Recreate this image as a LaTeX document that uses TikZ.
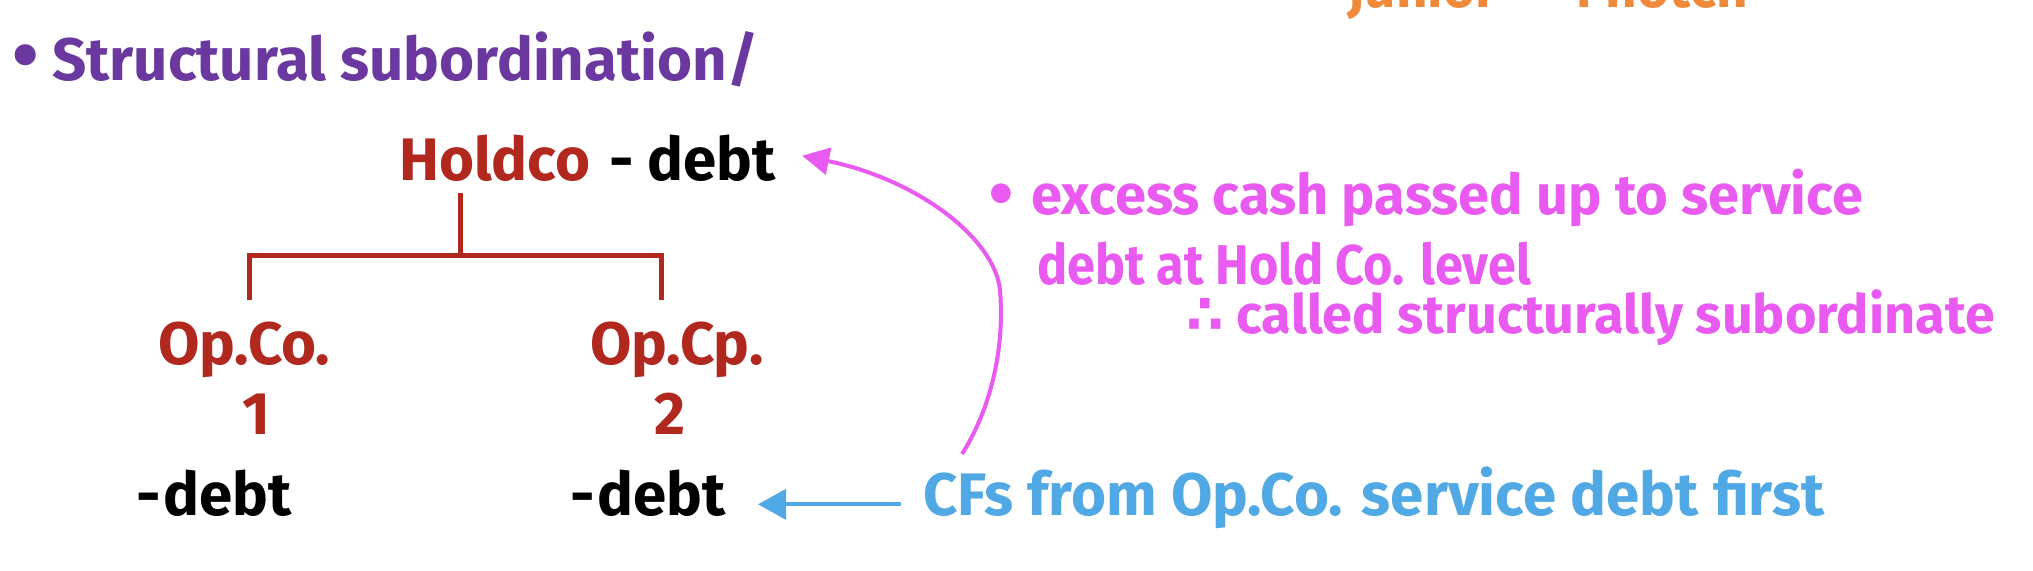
\documentclass[tikz,border=0pt]{standalone}
\usepackage{fontspec}
\setmainfont{Fira Sans}
\newfontfamily\symfont{DejaVu Sans}
\usetikzlibrary{arrows.meta}
\definecolor{hpurple}{RGB}{106,56,158}
\definecolor{hred}{RGB}{176,40,30}
\definecolor{hpink}{RGB}{232,90,240}
\definecolor{hblue}{RGB}{80,168,228}
\definecolor{horange}{RGB}{240,138,58}
\begin{document}
\begin{tikzpicture}[x=1pt,y=-1pt,
  every node/.style={inner sep=0pt},
  big/.style={font=\fontsize{60}{62}\selectfont\bfseries},
  mid/.style={font=\fontsize{56}{58}\selectfont\bfseries},
  txt/.style={anchor=base west},
  treeline/.style={hred,line width=5pt},
  parrow/.style={hpink,line width=4pt,-{Triangle[length=27pt,width=27pt]}},
  barrow/.style={hblue,line width=4pt,-{Triangle[length=28pt,width=30pt]}}]
\fill[white] (0,0) rectangle (2033,570);
\useasboundingbox (0,0) rectangle (2033,570);
\clip (0,0) rectangle (2033,570);
% top (cut off) orange note
\node[txt,font=\fontsize{55}{57}\selectfont\bfseries,horange] (jr) at (1349,8) {junior — 1 notch};
% heading
\node[big,hpurple] (hbul) at (26,61) {\symfont •};
\node[txt,big,hpurple] (head) at (52,80) {Structural subordination/};
% tree
\node[txt,big,hred] (hold) at (399,180) {Holdco};
\node[txt,big] (hdebt) at (609,180) {- debt};
\coordinate (tTop) at (460,193);
\coordinate (tMid) at (460,255);
\coordinate (tL) at (249,255);
\coordinate (tR) at (661,255);
\coordinate (tLb) at (249,300);
\coordinate (tRb) at (661,300);
\draw[treeline] (tTop) -- (tMid);
\draw[treeline] (tLb) -- (tL) -- (tR) -- (tRb);
\node[txt,big,hred] (op1) at (158,364) {Op.Co.};
\node[txt,big,hred] (op2) at (590,364) {Op.Cp.};
\node[big,hred,anchor=base] (n1) at (256,434) {1};
\node[big,hred,anchor=base] (n2) at (670,434) {2};
\node[txt,big] (d1) at (136,515) {-\hspace{3pt}debt};
\node[txt,big] (d2) at (570,515) {-\hspace{3pt}debt};
% blue note
\node[txt,font=\fontsize{60}{62}\selectfont\bfseries,hblue] (cfs) at (923,515) {CFs from Op.Co. service debt first};
\coordinate (btail) at ([xshift=-22pt,yshift=-7pt]cfs.west);
\coordinate (btip) at ([xshift=-165pt,yshift=-7pt]cfs.west);
\draw[barrow] (btail) -- (btip);
% pink note
\node[mid,hpink,anchor=base] (pbul) at (1001,214) {\symfont •};
\node[txt,mid,hpink] (p1) at (1031,214) {excess cash passed up to service};
\node[txt,mid,hpink] (p2) at (1037,284) {\scalebox{0.9}[1]{debt at Hold Co. level}};
\node[txt,font=\fontsize{54}{56}\selectfont\bfseries,hpink] (p3) at (1186,333) {{\symfont ∴} called structurally subordinate};
\coordinate (pstart) at (962,454);
\draw[parrow] (pstart) .. controls (990,410) and (1005,350) .. (1000,290)
  .. controls (995,240) and (920,180) .. ([xshift=26pt,yshift=2pt]hdebt.east);
\end{tikzpicture}
\end{document}
